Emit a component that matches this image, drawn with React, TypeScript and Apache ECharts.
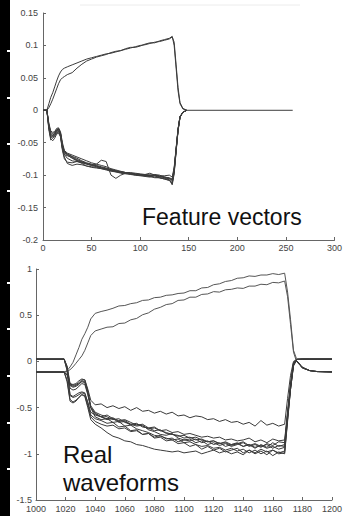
import React, { useEffect, useRef } from "react";
import * as echarts from "echarts";

// ---------- Top plot: feature vectors ----------
const featX = [0, 4, 6, 8, 10, 12, 14, 16, 18, 20, 22, 25, 30, 35, 40, 45, 50, 55, 60, 65, 70, 75, 80, 85, 90, 95, 100, 105, 110, 115, 120, 125, 130, 133, 135, 137, 139, 141, 144, 148];
const featPosA = [0, 0, 0.01, 0.02, 0.027, 0.036, 0.045, 0.053, 0.059, 0.063, 0.065, 0.067, 0.07, 0.073, 0.076, 0.079, 0.081, 0.083, 0.085, 0.087, 0.088, 0.09, 0.092, 0.094, 0.096, 0.098, 0.1, 0.101, 0.103, 0.105, 0.106, 0.108, 0.11, 0.113, 0.105, 0.07, 0.035, 0.012, 0.003, 0];
const featPosB = [0, 0, 0.004, 0.01, 0.017, 0.025, 0.033, 0.041, 0.047, 0.05, 0.052, 0.055, 0.058, 0.065, 0.071, 0.076, 0.079, 0.082, 0.084, 0.086, 0.089, 0.091, 0.092, 0.095, 0.097, 0.097, 0.099, 0.102, 0.104, 0.104, 0.107, 0.109, 0.111, 0.114, 0.1, 0.065, 0.03, 0.01, 0.002, 0];
const featNeg1 = [0, 0, -0.022, -0.036, -0.038, -0.036, -0.031, -0.029, -0.036, -0.055, -0.064, -0.067, -0.071, -0.074, -0.078, -0.081, -0.083, -0.086, -0.088, -0.09, -0.092, -0.094, -0.095, -0.096, -0.097, -0.098, -0.099, -0.1, -0.1, -0.101, -0.102, -0.103, -0.104, -0.106, -0.09, -0.06, -0.03, -0.01, -0.003, 0];
const featNeg2 = [0, 0, -0.03, -0.046, -0.043, -0.04, -0.035, -0.033, -0.04, -0.06, -0.072, -0.082, -0.085, -0.083, -0.084, -0.086, -0.087, -0.088, -0.09, -0.092, -0.094, -0.095, -0.096, -0.097, -0.098, -0.099, -0.1, -0.101, -0.102, -0.103, -0.104, -0.106, -0.108, -0.112, -0.095, -0.062, -0.03, -0.01, -0.003, 0];
const featNeg3 = [0, 0, -0.025, -0.04, -0.04, -0.038, -0.032, -0.03, -0.038, -0.058, -0.068, -0.07, -0.073, -0.077, -0.08, -0.083, -0.085, -0.083, -0.077, -0.079, -0.1, -0.105, -0.1, -0.097, -0.098, -0.099, -0.1, -0.1, -0.101, -0.099, -0.1, -0.103, -0.105, -0.108, -0.092, -0.06, -0.03, -0.01, -0.003, 0];
const featNeg4 = [0, 0, -0.02, -0.032, -0.034, -0.033, -0.028, -0.027, -0.033, -0.05, -0.062, -0.066, -0.069, -0.072, -0.075, -0.078, -0.081, -0.083, -0.085, -0.087, -0.09, -0.092, -0.094, -0.096, -0.096, -0.097, -0.098, -0.099, -0.1, -0.1, -0.101, -0.101, -0.1, -0.103, -0.088, -0.058, -0.028, -0.01, -0.003, 0];
const featNeg5 = [0, 0, -0.028, -0.042, -0.041, -0.039, -0.034, -0.032, -0.038, -0.058, -0.068, -0.074, -0.078, -0.079, -0.08, -0.082, -0.084, -0.086, -0.089, -0.091, -0.093, -0.095, -0.097, -0.098, -0.099, -0.1, -0.101, -0.102, -0.103, -0.101, -0.104, -0.105, -0.107, -0.115, -0.098, -0.064, -0.032, -0.011, -0.003, 0];
const featNeg6 = [0, 0, -0.024, -0.038, -0.039, -0.036, -0.03, -0.028, -0.035, -0.053, -0.063, -0.068, -0.072, -0.076, -0.079, -0.082, -0.084, -0.085, -0.087, -0.089, -0.091, -0.093, -0.095, -0.096, -0.098, -0.098, -0.099, -0.099, -0.097, -0.1, -0.102, -0.104, -0.106, -0.11, -0.093, -0.061, -0.03, -0.01, -0.003, 0];
const featNeg7 = [0, 0, -0.026, -0.044, -0.047, -0.043, -0.037, -0.035, -0.041, -0.062, -0.075, -0.08, -0.081, -0.079, -0.081, -0.083, -0.085, -0.087, -0.089, -0.09, -0.092, -0.094, -0.096, -0.097, -0.098, -0.1, -0.1, -0.101, -0.102, -0.104, -0.104, -0.106, -0.108, -0.113, -0.096, -0.063, -0.031, -0.011, -0.003, 0];
const featNeg8 = [0, 0, -0.022, -0.034, -0.036, -0.034, -0.03, -0.029, -0.035, -0.054, -0.065, -0.069, -0.074, -0.078, -0.082, -0.086, -0.088, -0.089, -0.09, -0.091, -0.092, -0.094, -0.095, -0.096, -0.097, -0.099, -0.1, -0.1, -0.1, -0.1, -0.102, -0.103, -0.105, -0.107, -0.091, -0.06, -0.03, -0.01, -0.003, 0];
const featTailX = [148, 257];
const featTail = [0, 0];
const featXTicks = ["0", "50", "100", "150", "200", "250", "300"];
const featYTicks = ["-0.2", "-0.15", "-0.1", "-0.05", "0", "0.05", "0.1", "0.15"];

// ---------- Bottom plot: real waveforms ----------
const wfX = [1000, 1019, 1021, 1023, 1025, 1027, 1029, 1031, 1033, 1035, 1037, 1040, 1044, 1048, 1052, 1056, 1060, 1064, 1068, 1072, 1076, 1080, 1084, 1088, 1092, 1096, 1100, 1104, 1108, 1112, 1116, 1120, 1124, 1128, 1132, 1136, 1140, 1144, 1148, 1152, 1156, 1160, 1164, 1168, 1170, 1172, 1174, 1176, 1180, 1185, 1190, 1200];
const wfPosA = [-0.115, -0.115, -0.1, -0.06, -0.01, 0.07, 0.15, 0.24, 0.3, 0.37, 0.46, 0.52, 0.54, 0.555, 0.575, 0.6, 0.605, 0.625, 0.635, 0.66, 0.665, 0.69, 0.695, 0.715, 0.72, 0.735, 0.74, 0.765, 0.765, 0.795, 0.8, 0.83, 0.84, 0.865, 0.875, 0.9, 0.905, 0.925, 0.92, 0.935, 0.935, 0.95, 0.94, 0.955, 0.75, 0.45, 0.12, 0.03, 0.025, 0.025, 0.025, 0.025];
const wfPosB = [-0.115, -0.115, -0.11, -0.09, -0.06, -0.02, 0.02, 0.06, 0.12, 0.2, 0.28, 0.33, 0.35, 0.37, 0.375, 0.41, 0.415, 0.45, 0.465, 0.505, 0.525, 0.565, 0.585, 0.615, 0.625, 0.66, 0.665, 0.695, 0.695, 0.725, 0.73, 0.755, 0.75, 0.775, 0.78, 0.795, 0.79, 0.815, 0.815, 0.835, 0.83, 0.855, 0.85, 0.87, 0.7, 0.4, 0.1, 0.0, -0.07, -0.1, -0.11, -0.11];
const wfNeg1 = [0.025, 0.025, -0.05, -0.24, -0.26, -0.25, -0.23, -0.2, -0.2, -0.3, -0.42, -0.47, -0.46, -0.5, -0.48, -0.51, -0.49, -0.53, -0.5, -0.54, -0.53, -0.56, -0.54, -0.57, -0.55, -0.59, -0.58, -0.61, -0.59, -0.6, -0.63, -0.62, -0.65, -0.63, -0.66, -0.65, -0.68, -0.66, -0.7, -0.64, -0.69, -0.67, -0.7, -0.68, -0.4, -0.15, 0.0, 0.02, 0.025, 0.025, 0.025, 0.025];
const wfNeg2 = [-0.115, -0.115, -0.15, -0.25, -0.27, -0.26, -0.24, -0.22, -0.23, -0.35, -0.5, -0.57, -0.6, -0.62, -0.61, -0.65, -0.64, -0.68, -0.67, -0.71, -0.72, -0.75, -0.74, -0.78, -0.79, -0.8, -0.83, -0.82, -0.85, -0.84, -0.87, -0.86, -0.89, -0.87, -0.9, -0.89, -0.92, -0.9, -0.93, -0.91, -0.94, -0.92, -0.95, -0.93, -0.6, -0.3, -0.05, 0.01, -0.06, -0.1, -0.11, -0.115];
const wfNeg3 = [0.025, 0.025, -0.06, -0.26, -0.28, -0.27, -0.25, -0.21, -0.22, -0.33, -0.48, -0.55, -0.58, -0.6, -0.63, -0.62, -0.66, -0.68, -0.7, -0.69, -0.74, -0.76, -0.79, -0.8, -0.78, -0.83, -0.85, -0.84, -0.88, -0.86, -0.9, -0.88, -0.91, -0.89, -0.92, -0.9, -0.88, -0.92, -0.9, -0.93, -0.89, -0.91, -0.87, -0.88, -0.55, -0.25, -0.02, 0.02, 0.025, 0.025, 0.025, 0.025];
const wfNeg4 = [-0.115, -0.115, -0.14, -0.24, -0.25, -0.24, -0.21, -0.19, -0.2, -0.32, -0.5, -0.6, -0.63, -0.62, -0.66, -0.65, -0.7, -0.69, -0.73, -0.75, -0.77, -0.8, -0.81, -0.83, -0.85, -0.84, -0.88, -0.87, -0.9, -0.92, -0.91, -0.94, -0.93, -0.96, -0.94, -0.97, -0.95, -0.99, -0.96, -1.0, -0.97, -1.02, -0.98, -1.0, -0.65, -0.3, -0.04, 0.01, -0.07, -0.1, -0.11, -0.115];
const wfNeg5 = [0.025, 0.025, -0.1, -0.36, -0.38, -0.36, -0.34, -0.33, -0.34, -0.45, -0.58, -0.62, -0.64, -0.67, -0.66, -0.71, -0.7, -0.75, -0.74, -0.79, -0.78, -0.83, -0.82, -0.86, -0.85, -0.89, -0.88, -0.92, -0.9, -0.95, -0.92, -0.96, -0.94, -0.98, -0.96, -0.94, -0.99, -0.96, -1.0, -0.97, -1.01, -0.96, -0.99, -0.97, -0.62, -0.28, -0.03, 0.02, 0.025, 0.025, 0.025, 0.025];
const wfNeg6 = [-0.115, -0.115, -0.2, -0.41, -0.44, -0.42, -0.39, -0.36, -0.37, -0.48, -0.6, -0.65, -0.68, -0.7, -0.69, -0.73, -0.72, -0.76, -0.75, -0.79, -0.78, -0.82, -0.8, -0.84, -0.83, -0.87, -0.85, -0.86, -0.84, -0.88, -0.86, -0.9, -0.88, -0.92, -0.9, -0.88, -0.92, -0.9, -0.94, -0.9, -0.93, -0.88, -0.92, -0.9, -0.58, -0.27, -0.03, 0.01, -0.07, -0.1, -0.11, -0.115];
const wfNeg7 = [0.025, 0.025, -0.09, -0.37, -0.39, -0.38, -0.36, -0.34, -0.35, -0.44, -0.55, -0.58, -0.6, -0.63, -0.62, -0.66, -0.65, -0.69, -0.68, -0.7, -0.73, -0.72, -0.75, -0.74, -0.77, -0.76, -0.79, -0.78, -0.8, -0.82, -0.81, -0.83, -0.82, -0.85, -0.84, -0.86, -0.85, -0.83, -0.87, -0.85, -0.88, -0.84, -0.86, -0.85, -0.55, -0.25, -0.02, 0.02, 0.025, 0.025, 0.025, 0.025];
const wfNeg8 = [-0.115, -0.115, -0.22, -0.43, -0.45, -0.43, -0.39, -0.36, -0.38, -0.5, -0.63, -0.68, -0.72, -0.77, -0.81, -0.83, -0.86, -0.87, -0.9, -0.91, -0.93, -0.95, -0.96, -0.97, -0.98, -0.97, -0.99, -0.98, -0.97, -1.0, -0.98, -0.96, -0.99, -0.97, -1.0, -0.98, -1.01, -0.96, -0.99, -0.95, -0.98, -0.96, -1.0, -0.99, -0.63, -0.3, -0.04, 0.01, -0.07, -0.1, -0.11, -0.115];
const wfNeg9 = [0.025, 0.025, -0.07, -0.29, -0.31, -0.3, -0.27, -0.24, -0.25, -0.36, -0.5, -0.56, -0.6, -0.58, -0.62, -0.64, -0.63, -0.66, -0.69, -0.68, -0.72, -0.71, -0.75, -0.77, -0.79, -0.81, -0.8, -0.83, -0.82, -0.85, -0.87, -0.86, -0.89, -0.88, -0.91, -0.89, -0.87, -0.91, -0.89, -0.92, -0.9, -0.94, -0.91, -0.92, -0.58, -0.26, -0.02, 0.02, 0.025, 0.025, 0.025, 0.025];
const wfXTicks = ["1000", "1020", "1040", "1060", "1080", "1100", "1120", "1140", "1160", "1180", "1200"];
const wfYTicks = ["-1.5", "-1", "-0.5", "0", "0.5", "1"];

const featSeries = [featPosA, featPosB, featNeg1, featNeg2, featNeg3, featNeg4, featNeg5, featNeg6, featNeg7, featNeg8];
const wfSeries = [wfPosA, wfPosB, wfNeg1, wfNeg2, wfNeg3, wfNeg4, wfNeg5, wfNeg6, wfNeg7, wfNeg8, wfNeg9];

const FONT = "'Liberation Sans', Arial, sans-serif";

function pickLabel(labels: string[], v: number) {
  let best = labels[0];
  let d = Infinity;
  for (const l of labels) {
    const dd = Math.abs(parseFloat(l) - v);
    if (dd < d) { d = dd; best = l; }
  }
  return best;
}

function axisCommon(labels: string[], margin: number) {
  return {
    axisLine: { show: true, onZero: false, lineStyle: { color: "#666", width: 1 } },
    axisTick: { show: true, inside: true, length: 3, lineStyle: { color: "#666", width: 1 } },
    axisLabel: { color: "#444", fontSize: 9, fontFamily: FONT, margin, formatter: (v: number) => pickLabel(labels, v) },
    splitLine: { show: false },
  };
}

export default function App() {
  const ref = useRef<HTMLDivElement>(null);
  useEffect(() => {
    if (!ref.current) return;
    const chart = echarts.init(ref.current, undefined, { renderer: "svg" });
    const lineStyle = { color: "#3c3c3c", width: 1 };
    const series: any[] = [];
    featSeries.forEach((arr, k) => {
      series.push({
        type: "line", xAxisIndex: 0, yAxisIndex: 0, symbol: "none", silent: true,
        lineStyle, data: featX.map((x, i) => [x, arr[i]]), name: "f" + k,
      });
    });
    series.push({
      type: "line", xAxisIndex: 0, yAxisIndex: 0, symbol: "none", silent: true,
      lineStyle, data: featTailX.map((x, i) => [x, featTail[i]]),
    });
    wfSeries.forEach((arr, k) => {
      series.push({
        type: "line", xAxisIndex: 1, yAxisIndex: 1, symbol: "none", silent: true,
        lineStyle: { color: k < 2 ? "#555" : "#3a3a3a", width: 1 },
        data: wfX.map((x, i) => [x, arr[i]]), name: "w" + k,
      });
    });

    const notchesY = [50, 97, 143, 190, 282, 328, 375, 422, 468];
    const graphic: any[] = [
      { type: "rect", shape: { x: 0, y: 0, width: 10, height: 516 }, style: { fill: "#000" }, silent: true },
      ...notchesY.map((y) => ({ type: "rect", shape: { x: 7, y, width: 3, height: 2 }, style: { fill: "#fff" }, silent: true })),
      { type: "line", shape: { x1: 80, y1: 5, x2: 300, y2: 5 }, style: { stroke: "#ececec", lineWidth: 1 }, silent: true },
      { type: "text", x: 142, y: 217, style: { text: "Feature vectors", font: "23px " + FONT, fill: "#111", verticalAlign: "middle" } },
      { type: "text", x: 63, y: 454, style: { text: "Real", font: "24px " + FONT, fill: "#111", verticalAlign: "middle" } },
      { type: "text", x: 63, y: 482, style: { text: "waveforms", font: "24px " + FONT, fill: "#111", verticalAlign: "middle" } },
    ];

    chart.setOption({
      animation: false,
      backgroundColor: "#fff",
      grid: [
        { left: 43, right: 7, top: 13, height: 227, containLabel: false },
        { left: 36, right: 12, top: 269, height: 231, containLabel: false },
      ],
      xAxis: [
        { type: "value", gridIndex: 0, min: 0, max: 300, interval: 50, ...axisCommon(featXTicks, 3) },
        { type: "value", gridIndex: 1, min: 1000, max: 1200, interval: 20, ...axisCommon(wfXTicks, 4) },
      ],
      yAxis: [
        { type: "value", gridIndex: 0, min: -0.2, max: 0.15, interval: 0.05, ...axisCommon(featYTicks, 5) },
        { type: "value", gridIndex: 1, min: -1.5, max: 1, interval: 0.5, ...axisCommon(wfYTicks, 4) },
      ],
      series,
      graphic,
    });
    return () => chart.dispose();
  }, []);
  return <div ref={ref} style={{ position: "absolute", left: 0, top: 0, width: 345, height: 516 }} />;
}
